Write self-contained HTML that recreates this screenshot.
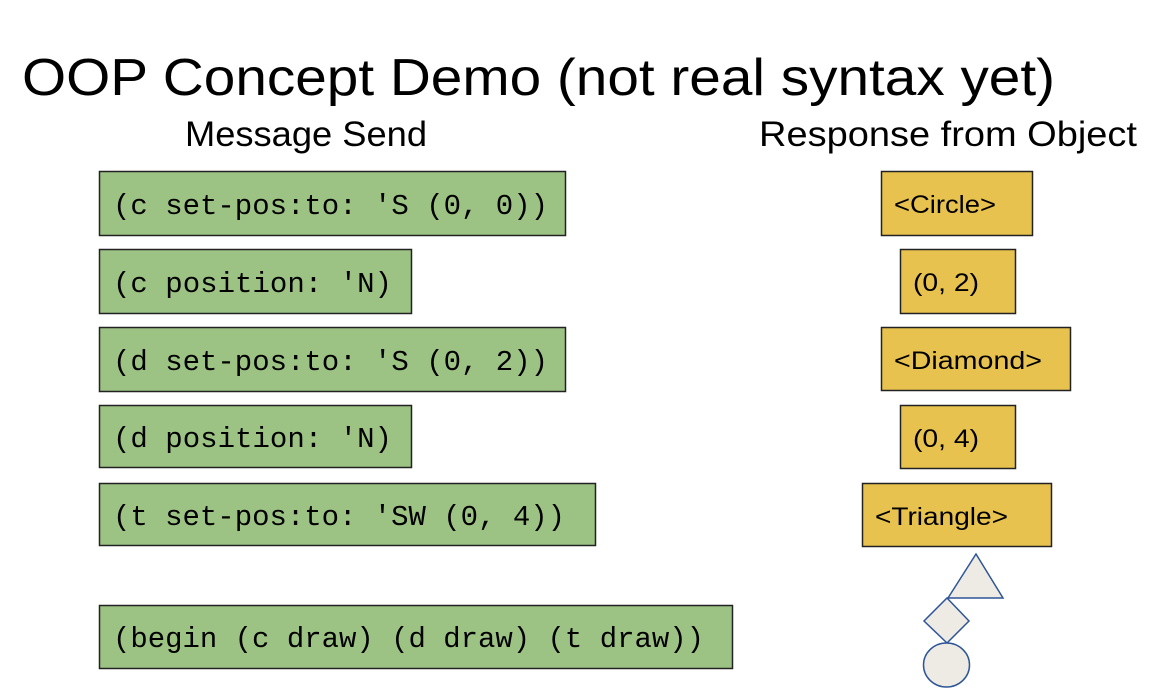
<!DOCTYPE html>
<html><head><meta charset="utf-8"><style>html,body{margin:0;padding:0;background:#fff;}svg{display:block}</style></head>
<body>
<svg width="1172" height="698" viewBox="0 0 1172 698" xmlns="http://www.w3.org/2000/svg">
<g font-family="Liberation Sans, sans-serif" fill="#000">
<text x="22" y="95" font-size="52" textLength="1033" lengthAdjust="spacingAndGlyphs">OOP Concept Demo (not real syntax yet)</text>
<text x="185" y="146" font-size="35" textLength="242" lengthAdjust="spacingAndGlyphs">Message Send</text>
<text x="759" y="146" font-size="35" textLength="378" lengthAdjust="spacingAndGlyphs">Response from Object</text>
</g>
<g fill="#9dc384" stroke="#222" stroke-width="1.5">
<rect x="99.5" y="171.5" width="466" height="64"/>
<rect x="99.5" y="249.5" width="312" height="64"/>
<rect x="99.5" y="327.5" width="466" height="64"/>
<rect x="99.5" y="405.5" width="312" height="62"/>
<rect x="99.5" y="483.5" width="496" height="62"/>
<rect x="99.5" y="605.5" width="633" height="63"/>
</g>
<g font-family="Liberation Mono, monospace" font-size="29" fill="#000">
<text x="113" y="214" textLength="435" lengthAdjust="spacingAndGlyphs">(c set-pos:to: 'S (0, 0))</text>
<text x="113" y="292" textLength="279" lengthAdjust="spacingAndGlyphs">(c position: 'N)</text>
<text x="113" y="370" textLength="435" lengthAdjust="spacingAndGlyphs">(d set-pos:to: 'S (0, 2))</text>
<text x="113" y="447" textLength="279" lengthAdjust="spacingAndGlyphs">(d position: 'N)</text>
<text x="113" y="525" textLength="452" lengthAdjust="spacingAndGlyphs">(t set-pos:to: 'SW (0, 4))</text>
<text x="113" y="647" textLength="591" lengthAdjust="spacingAndGlyphs">(begin (c draw) (d draw) (t draw))</text>
</g>
<g fill="#e8c24e" stroke="#222" stroke-width="1.5">
<rect x="881.5" y="171.5" width="151" height="64"/>
<rect x="900.5" y="249.5" width="115" height="64"/>
<rect x="881.5" y="327.5" width="189" height="63"/>
<rect x="900.5" y="405.5" width="115" height="63"/>
<rect x="862.5" y="483.5" width="189" height="63"/>
</g>
<g font-family="Liberation Sans, sans-serif" font-size="25" fill="#000">
<text x="894" y="213" textLength="102" lengthAdjust="spacingAndGlyphs">&lt;Circle&gt;</text>
<text x="913" y="291" textLength="66" lengthAdjust="spacingAndGlyphs">(0, 2)</text>
<text x="894" y="369" textLength="148" lengthAdjust="spacingAndGlyphs">&lt;Diamond&gt;</text>
<text x="913" y="447" textLength="66" lengthAdjust="spacingAndGlyphs">(0, 4)</text>
<text x="875" y="525" textLength="133" lengthAdjust="spacingAndGlyphs">&lt;Triangle&gt;</text>
</g>
<g fill="#edebe4" stroke="#2f5597" stroke-width="1.5">
<polygon points="976,554 1003,598 948,598"/>
<polygon points="947,598 969,621 947,643 924,621"/>
<ellipse cx="946.5" cy="665" rx="23" ry="22"/>
</g>
</svg>
</body></html>
